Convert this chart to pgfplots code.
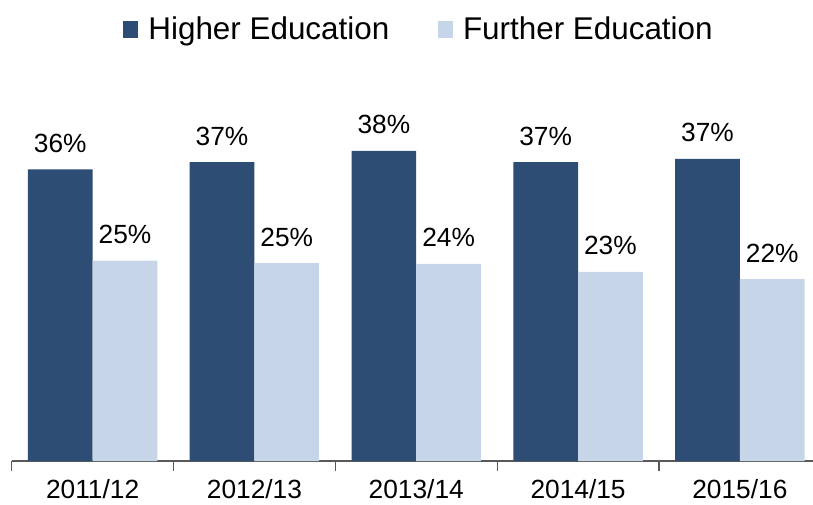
\documentclass[border=0pt]{standalone}
\usepackage{pgfplots}
\pgfplotsset{compat=1.18}
\usepackage{fontspec}
\setmainfont{Liberation Sans}
\usetikzlibrary{calc}
\definecolor{heblue}{HTML}{2E4D74}
\definecolor{feblue}{HTML}{C6D5E8}
\definecolor{axisgray}{HTML}{595959}
\begin{document}
\begin{tikzpicture}
\begin{axis}[
  name=ax,
  x=161.8pt, y=8.08pt,
  xmin=-0.5, xmax=4.452, ymin=0, ymax=44.68,
  ybar=0pt, bar width=0.4,
  hide y axis,
  axis x line*=bottom,
  x axis line style={-, draw=axisgray, line width=1.2pt},
  xtick={0,1,2,3,4},
  xticklabels={2011/12,2012/13,2013/14,2014/15,2015/16},
  major x tick style={draw=none},
  xticklabel style={font=\fontsize{26.3}{30}\selectfont, yshift=-10.6pt},
  extra x ticks={-0.5,0.5,1.5,2.5,3.5},
  extra x tick labels={},
  extra x tick style={tick align=outside, major tick length=10pt,
     major x tick style={draw=axisgray, line width=1.2pt}},
  clip=false,
  point meta=explicit symbolic,
  nodes near coords,
  every node near coord/.append style={font=\fontsize{26.3}{30}\selectfont, anchor=base, yshift=17pt, text=black},
  legend columns=2,
  legend style={at={(0.5071,1)}, anchor=south, yshift=59.2pt, draw=none, fill=none,
    inner sep=0pt, outer sep=0pt, font=\fontsize{31.4}{36}\selectfont,
    nodes={inner sep=0pt},
    /tikz/every odd column/.append style={column sep=10.4pt},
    /tikz/every even column/.append style={column sep=48.7pt}},
  legend image code/.code={\fill[#1,draw=none] (0pt,-9pt) rectangle (14.6pt,7.6pt);},
]
\addplot[fill=heblue, draw=none] coordinates {
  (0,36.1) [36\%] (1,37.0) [37\%] (2,38.4) [38\%] (3,37.0) [37\%] (4,37.4) [37\%]};
\addplot[fill=feblue, draw=none] coordinates {
  (0,24.8) [25\%] (1,24.5) [25\%] (2,24.4) [24\%] (3,23.4) [23\%] (4,22.5) [22\%]};
\legend{Higher Education, Further Education}
\end{axis}
\pgfresetboundingbox
\useasboundingbox ($(ax.south west)+(-11.7pt,-43pt)$) rectangle ($(ax.north east)+(0pt,100pt)$);
\end{tikzpicture}
\end{document}
